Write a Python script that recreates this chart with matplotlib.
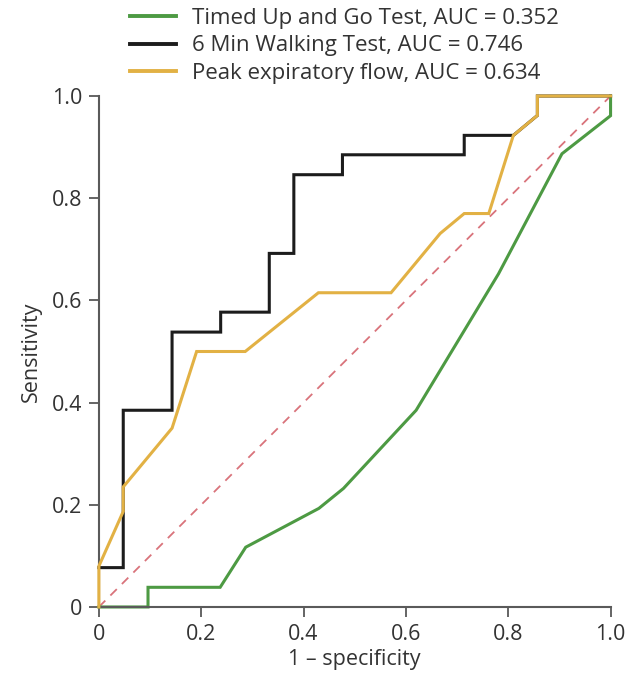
import matplotlib
matplotlib.use("Agg")
import matplotlib.pyplot as plt

plt.rcParams['font.family'] = ['Open Sans', 'DejaVu Sans']

# ROC curve points (1 - specificity, sensitivity)
tug_fpr = [0.0, 0.096, 0.096, 0.237, 0.287, 0.430, 0.478, 0.620, 0.781, 0.905, 1.0, 1.0]
tug_tpr = [0.0, 0.0, 0.0385, 0.0385, 0.117, 0.193, 0.232, 0.385, 0.652, 0.887, 0.9615, 1.0]

mwt_fpr = [0.0, 0.0476, 0.0476, 0.143, 0.143, 0.238, 0.238, 0.333, 0.333, 0.381, 0.381,
           0.476, 0.476, 0.714, 0.714, 0.810, 0.857, 0.857, 1.0]
mwt_tpr = [0.077, 0.077, 0.385, 0.385, 0.538, 0.538, 0.577, 0.577, 0.692, 0.692, 0.846,
           0.846, 0.885, 0.885, 0.923, 0.923, 0.962, 1.0, 1.0]

pef_fpr = [0.0, 0.0, 0.0476, 0.0476, 0.143, 0.191, 0.286, 0.429, 0.571, 0.667, 0.714,
           0.762, 0.810, 0.857, 0.857, 1.0]
pef_tpr = [0.0, 0.08, 0.187, 0.235, 0.35, 0.50, 0.50, 0.615, 0.615, 0.731, 0.770,
           0.770, 0.923, 0.962, 1.0, 1.0]

labels = ["Timed Up and Go Test, AUC = 0.352",
          "6 Min Walking Test, AUC = 0.746",
          "Peak expiratory flow, AUC = 0.634"]
colors = ["#4d9a43", "#1c1c1c", "#e2b144"]

ticks = [0, 0.2, 0.4, 0.6, 0.8, 1.0]
tick_labels = ["0", "0.2", "0.4", "0.6", "0.8", "1.0"]

fig = plt.figure(figsize=(6.38, 6.81), dpi=100)
ax = fig.add_axes([0.155, 0.1087, 0.802, 0.7503])

ax.plot([0, 1], [0, 1], linestyle=(0, (5, 4)), color="#d9737b", lw=1.3, zorder=1, clip_on=False)
l1, = ax.plot(tug_fpr, tug_tpr, color=colors[0], lw=2.2, zorder=2, clip_on=False, solid_joinstyle='miter')
l2, = ax.plot(mwt_fpr, mwt_tpr, color=colors[1], lw=2.2, zorder=3, clip_on=False, solid_joinstyle='miter')
l3, = ax.plot(pef_fpr, pef_tpr, color=colors[2], lw=2.2, zorder=4, clip_on=False, solid_joinstyle='miter')

ax.set_xlim(0, 1)
ax.set_ylim(0, 1)
ax.set_xticks(ticks)
ax.set_xticklabels(tick_labels)
ax.set_yticks(ticks)
ax.set_yticklabels(tick_labels)
for s in ["top", "right"]:
    ax.spines[s].set_visible(False)
for s in ["left", "bottom"]:
    ax.spines[s].set_color("#5a5a5a")
    ax.spines[s].set_linewidth(1.5)
ax.tick_params(direction="out", length=7, width=1.2, color="#4a4a4a",
               labelsize=15.5, labelcolor="#333333", pad=5)
ax.set_xlabel("1 \u2013 specificity", fontsize=15.5, color="#333333", labelpad=3)
ax.set_ylabel("Sensitivity", fontsize=15.5, color="#333333", labelpad=7)

leg = fig.legend([l1, l2, l3], labels, loc="upper left", bbox_to_anchor=(0.203, 0.988),
                 frameon=False, fontsize=16, handlelength=2.1, handletextpad=0.7,
                 labelspacing=0.28, borderpad=0.0, borderaxespad=0.0)
for t in leg.get_texts():
    t.set_color("#333333")
for h in leg.legend_handles:
    h.set_linewidth(2.8)

fig.savefig("out.png", dpi=100)
